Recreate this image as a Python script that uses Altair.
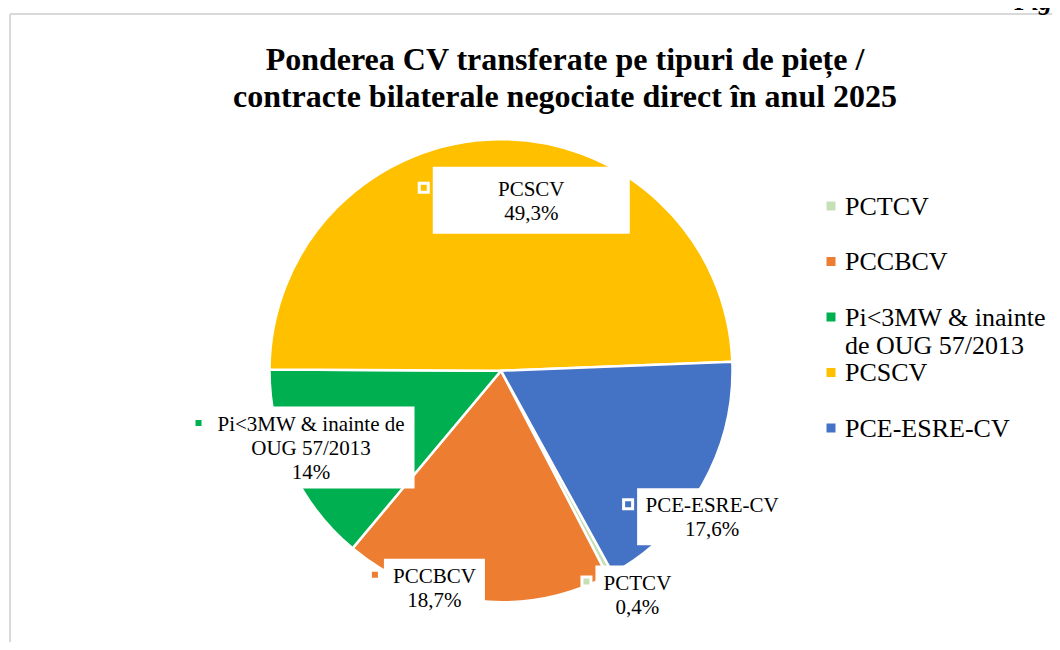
import math
import altair as alt
import pandas as pd

# ---------------- data ----------------
CATEGORIES = ["PCTCV", "PCCBCV", "Pi<3MW & inainte de OUG 57/2013", "PCSCV", "PCE-ESRE-CV"]
SHARES = [0.4, 18.7, 14.0, 49.3, 17.6]          # percent
COLORS = ["#C5E0B4", "#ED7D31", "#00B050", "#FFC000", "#4472C4"]
PIE_LABEL_NAMES = [["PCTCV"], ["PCCBCV"], ["Pi<3MW & inainte de", "OUG 57/2013"], ["PCSCV"], ["PCE-ESRE-CV"]]
LEGEND_NAMES = [["PCTCV"], ["PCCBCV"], ["Pi<3MW & inainte", "de OUG 57/2013"], ["PCSCV"], ["PCE-ESRE-CV"]]
TITLE_LINES = ["Ponderea CV transferate pe tipuri de piețe /",
               "contracte bilaterale negociate direct în anul 2025"]

# ---------------- layout / style ----------------
FONT = "Liberation Serif"
W, H = 1044, 634
CX, CY = 493, 362.7
R = 231.5
START_DEG = 151.13            # rotation of first slice (clockwise from 12 o'clock)
RL = 0.7 * R                  # label anchor radius
LABEL_LH = 24                 # label line height
# per label: nudge dx, nudge dy, box width, box height
LABEL_LAYOUT = [(60, 82, 84, 57), (-49, 57, 101, 57), (-43, 10, 207, 82),
                (33, -7, 197, 67), (70, 68, 150, 57)]
LEG_X, LEG_Y0, LEG_STEP = 823, 198, 55.5


def fmt_pct(v):
    s = f"{v:.1f}".rstrip("0").rstrip(".")
    return s.replace(".", ",") + "%"


df = pd.DataFrame({
    "cat": CATEGORIES,
    "val": SHARES,
    "order": list(range(len(CATEGORIES))),
    "pie_lines": [names + [fmt_pct(v)] for names, v in zip(PIE_LABEL_NAMES, SHARES)],
    "leg_lines": LEGEND_NAMES,
    "ndx": [l[0] for l in LABEL_LAYOUT],
    "ndy": [l[1] for l in LABEL_LAYOUT],
    "bw": [l[2] for l in LABEL_LAYOUT],
    "bh": [l[3] for l in LABEL_LAYOUT],
})

a0 = math.radians(START_DEG)
total = float(sum(SHARES))
color_scale = alt.Scale(domain=CATEGORIES, range=COLORS)

pie = alt.Chart(df).mark_arc(radius=R, stroke="white", strokeWidth=2.5).encode(
    theta=alt.Theta("val:Q", stack=True,
                    scale=alt.Scale(domain=[0, total], range=[a0, a0 + 2 * math.pi])),
    color=alt.Color("cat:N", scale=color_scale, legend=None),
    order=alt.Order("order:Q"),
    x=alt.value(CX),
    y=alt.value(CY),
)

lab = (
    alt.Chart(df)
    .transform_joinaggregate(total="sum(val)")
    .transform_window(cum="sum(val)", sort=[alt.SortField("order")], frame=[None, 0])
    .transform_calculate(ang=f"{a0} + (datum.cum - datum.val/2)/datum.total*2*PI")
    .transform_calculate(tx=f"{CX} + {RL}*sin(datum.ang) + datum.ndx")
    .transform_calculate(ty=f"{CY} - {RL}*cos(datum.ang) + datum.ndy")
    .transform_calculate(ty0=f"datum.ty - (length(datum.pie_lines)-1)*{LABEL_LH / 2}")
    .transform_calculate(bx="datum.tx - datum.bw/2")
    .transform_calculate(bx2="datum.tx + datum.bw/2")
    .transform_calculate(by="datum.ty - 1.5 - datum.bh/2")
    .transform_calculate(by2="datum.ty - 1.5 + datum.bh/2")
    .transform_calculate(mx="datum.tx - datum.bw/2 - 9")
    .transform_calculate(my="datum.ty0 - 2")
)

boxes = lab.mark_rect(color="white").encode(
    x=alt.X("bx:Q", scale=None), x2="bx2:Q",
    y=alt.Y("by:Q", scale=None), y2="by2:Q",
)

markers = lab.mark_square(size=81, stroke="white", strokeWidth=3, opacity=1).encode(
    x=alt.X("mx:Q", scale=None),
    y=alt.Y("my:Q", scale=None),
    color=alt.Color("cat:N", scale=color_scale, legend=None),
)

texts = lab.mark_text(font=FONT, fontSize=21, lineHeight=LABEL_LH, baseline="middle",
                      align="center", color="#000000").encode(
    x=alt.X("tx:Q", scale=None),
    y=alt.Y("ty0:Q", scale=None),
    text=alt.Text("pie_lines:N"),
)

leg = alt.Chart(df).transform_calculate(ly=f"{LEG_Y0} + datum.order*{LEG_STEP}")
leg_sq = leg.mark_square(size=81, opacity=1).encode(
    x=alt.value(LEG_X),
    y=alt.Y("ly:Q", scale=None),
    color=alt.Color("cat:N", scale=color_scale, legend=None),
)
leg_txt = leg.mark_text(font=FONT, fontSize=26, lineHeight=28, baseline="alphabetic",
                        align="left", dy=8.5, color="#000000").encode(
    x=alt.value(LEG_X + 14),
    y=alt.Y("ly:Q", scale=None),
    text=alt.Text("leg_lines:N"),
)

one = pd.DataFrame({"k": [0]})
title = alt.Chart(one).mark_text(text=TITLE_LINES, font=FONT, fontSize=32, fontWeight="bold",
                                 lineHeight=37, align="center", baseline="alphabetic",
                                 color="#000000").encode(x=alt.value(557), y=alt.value(62))
fig = alt.Chart(one).mark_text(text="Fig", font=FONT, fontSize=26, fontWeight="bold",
                               fontStyle="italic", align="right", baseline="alphabetic",
                               color="#000000").encode(x=alt.value(W), y=alt.value(2))
frame_top = alt.Chart(one).mark_rule(color="#d9d9d9", strokeWidth=2).encode(
    x=alt.value(2), x2=alt.value(W), y=alt.value(6))
frame_left = alt.Chart(one).mark_rule(color="#d9d9d9", strokeWidth=2).encode(
    x=alt.value(2), y=alt.value(6), y2=alt.value(H))

chart = alt.layer(
    frame_top, frame_left, pie, boxes, markers, texts, leg_sq, leg_txt, title, fig
).properties(
    width=W, height=H, autosize="none", padding=0, background="white"
).configure_view(stroke=None)

chart.save("out.html", embed_options={"renderer": "svg", "actions": False})
